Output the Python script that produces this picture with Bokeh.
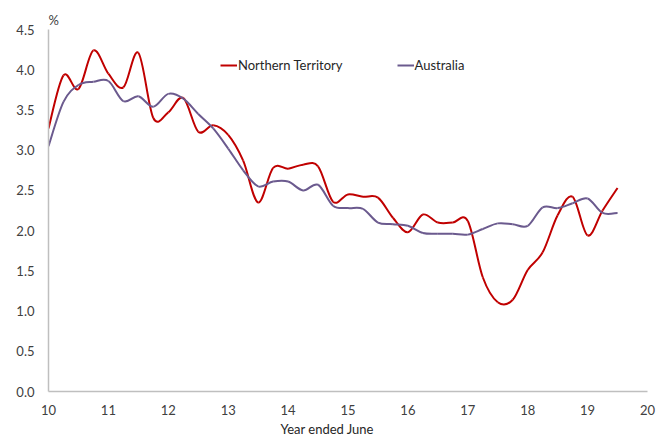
from bokeh.plotting import figure
from bokeh.models import Range1d, Legend, LegendItem, Title, ColumnDataSource, FixedTicker, CustomJSTickFormatter
from bokeh.embed import file_html
from bokeh.resources import INLINE

# Quarterly observations, year ended June (x = 10 means 2010)
quarters = [10.0, 10.25, 10.5, 10.75, 11.0, 11.25, 11.5, 11.75, 12.0, 12.25, 12.5, 12.75,
            13.0, 13.25, 13.5, 13.75, 14.0, 14.25, 14.5, 14.75, 15.0, 15.25, 15.5, 15.75,
            16.0, 16.25, 16.5, 16.75, 17.0, 17.25, 17.5, 17.75, 18.0, 18.25, 18.5, 18.75,
            19.0, 19.25, 19.5]
northern_territory = [3.27, 3.93, 3.76, 4.24, 3.95, 3.78, 4.21, 3.40, 3.47, 3.65, 3.23, 3.31,
                      3.19, 2.87, 2.35, 2.78, 2.77, 2.82, 2.80, 2.36, 2.45, 2.42, 2.41, 2.16,
                      1.98, 2.20, 2.10, 2.10, 2.12, 1.42, 1.11, 1.14, 1.51, 1.73, 2.19, 2.42,
                      1.94, 2.25, 2.53]
australia = [3.05, 3.60, 3.81, 3.85, 3.86, 3.61, 3.67, 3.54, 3.70, 3.64, 3.45, 3.27,
             3.02, 2.75, 2.55, 2.61, 2.61, 2.50, 2.57, 2.31, 2.28, 2.27, 2.10, 2.08,
             2.06, 1.97, 1.96, 1.96, 1.95, 2.02, 2.09, 2.08, 2.06, 2.29, 2.28, 2.34,
             2.40, 2.22, 2.22]
x_ticks = [10, 11, 12, 13, 14, 15, 16, 17, 18, 19, 20]
y_ticks = [0.0, 0.5, 1.0, 1.5, 2.0, 2.5, 3.0, 3.5, 4.0, 4.5]

NT_COLOR = "#C00000"
AU_COLOR = "#6B5A8E"
FONT = "Lato"


def smooth_segments(xs, ys):
    """Bezier segments (Catmull-Rom style smoothing, as in a smoothed line chart)."""
    n = len(xs)
    d = dict(x0=[], y0=[], x1=[], y1=[], cx0=[], cy0=[], cx1=[], cy1=[])
    for i in range(n - 1):
        p0 = i - 1 if i > 0 else i
        p3 = i + 2 if i + 2 < n else i + 1
        d["x0"].append(xs[i]); d["y0"].append(ys[i])
        d["x1"].append(xs[i + 1]); d["y1"].append(ys[i + 1])
        d["cx0"].append(xs[i] + (xs[i + 1] - xs[p0]) / 6.0)
        d["cy0"].append(ys[i] + (ys[i + 1] - ys[p0]) / 6.0)
        d["cx1"].append(xs[i + 1] - (xs[p3] - xs[i]) / 6.0)
        d["cy1"].append(ys[i + 1] - (ys[p3] - ys[i]) / 6.0)
    return ColumnDataSource(d)


p = figure(width=665, height=437, output_backend="svg", toolbar_location=None,
           x_range=Range1d(10, 20), y_range=Range1d(0, 4.5),
           min_border_left=48, min_border_right=18, min_border_top=29, min_border_bottom=46)
p.outline_line_color = None
p.xgrid.visible = False
p.ygrid.visible = False
p.background_fill_color = "white"
p.border_fill_color = "white"

for ax in (p.xaxis[0], p.yaxis[0]):
    ax.axis_line_color = "#BFBFBF"
    ax.axis_line_width = 1.5
    ax.major_tick_line_color = None
    ax.minor_tick_line_color = None
    ax.major_label_text_font = FONT
    ax.major_label_text_font_size = "13px"
    ax.major_label_text_color = "#404040"

p.xaxis[0].ticker = FixedTicker(ticks=x_ticks)
p.yaxis[0].ticker = FixedTicker(ticks=y_ticks)
p.yaxis[0].formatter = CustomJSTickFormatter(code="return tick.toFixed(1);")
p.xaxis[0].major_label_standoff = 7
p.yaxis[0].major_label_standoff = 8

r_nt = p.bezier(x0="x0", y0="y0", x1="x1", y1="y1", cx0="cx0", cy0="cy0", cx1="cx1", cy1="cy1",
                source=smooth_segments(quarters, northern_territory), line_color=NT_COLOR, line_width=2)
r_au = p.bezier(x0="x0", y0="y0", x1="x1", y1="y1", cx0="cx0", cy0="cy0", cx1="cx1", cy1="cy1",
                source=smooth_segments(quarters, australia), line_color=AU_COLOR, line_width=2)

legend = Legend(items=[LegendItem(label="Northern Territory", renderers=[r_nt], index=0),
                       LegendItem(label="Australia", renderers=[r_au], index=0)],
                orientation="horizontal", location=(172, 316),
                border_line_color=None, background_fill_alpha=0,
                padding=0, margin=0, spacing=54, label_standoff=1,
                glyph_width=17, glyph_height=20, label_height=20,
                label_text_font=FONT, label_text_font_size="13px", label_text_color="#262626")
p.add_layout(legend)

p.add_layout(Title(text="%", align="left", offset=0, standoff=3,
                   text_font=FONT, text_font_size="13px", text_font_style="normal",
                   text_color="#404040"), "above")
p.add_layout(Title(text="Year ended June", align="left", offset=232, standoff=2,
                   text_font=FONT, text_font_size="13px", text_font_style="normal",
                   text_color="#262626"), "below")

open("out.html", "w").write(file_html(p, INLINE))
